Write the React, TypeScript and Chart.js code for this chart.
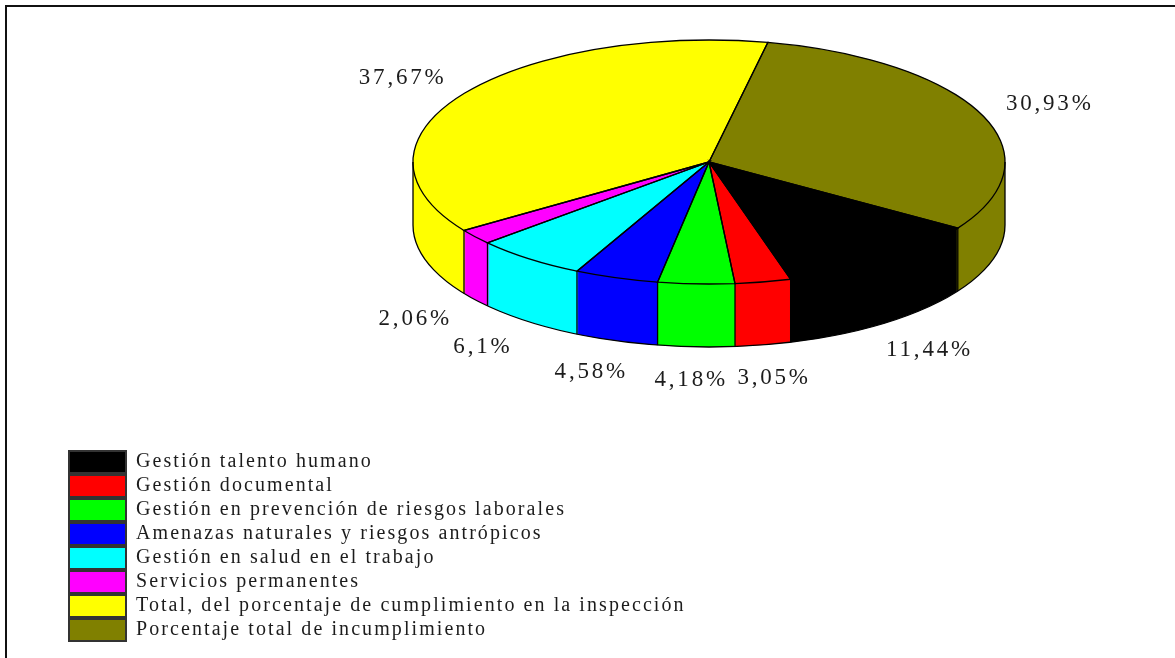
import React, { useEffect, useRef } from "react";
import { Chart, registerables } from "chart.js";

Chart.register(...registerables);

const categories = [
  "Gestión talento humano",
  "Gestión documental",
  "Gestión en prevención de riesgos laborales",
  "Amenazas naturales y riesgos antrópicos",
  "Gestión en salud en el trabajo",
  "Servicios permanentes",
  "Total, del porcentaje de cumplimiento en la inspección",
  "Porcentaje total de incumplimiento",
];
const percentages = [11.44, 3.05, 4.18, 4.58, 6.1, 2.06, 37.67, 30.93];
const sliceColors = ["#000000", "#ff0000", "#00ff00", "#0000ff", "#00ffff", "#ff00ff", "#ffff00", "#808000"];

// Label placement relative to each slice's rim mid-point
const labelNudges: [number, number][] = [
  [44, 90], [11, 96], [-5, 96], [-25, 94], [-46, 88], [-60, 82], [-60, -16], [68, -11],
];

const CX = 709;
const CY = 162;
const RX = 296;
const RY = 122;
const DEPTH = 63;
const SERIF = '"Liberation Serif", serif';
const INK = "#1c1c1c";
const LEGEND_SPACING = "2.08px";

function applyPieTransform(chart: any) {
  const arc = chart.getDatasetMeta(0).data[0] as any;
  const sx = RX / arc.outerRadius;
  const sy = RY / arc.outerRadius;
  chart.ctx.setTransform(sx, 0, 0, sy, CX - arc.x * sx, CY - arc.y * sy);
}

const pie3d = {
  id: "pie3d",
  beforeLayout(chart: any) {
    (chart.ctx as any).letterSpacing = LEGEND_SPACING;
  },
  beforeDraw(chart: any) {
    (chart.ctx as any).letterSpacing = LEGEND_SPACING;
  },
  beforeDatasetDraw(chart: any) {
    const ctx = chart.ctx;
    const els = chart.getDatasetMeta(0).data as any[];
    const scaleY = RY / els[0].outerRadius;
    ctx.save();
    applyPieTransform(chart);
    for (let d = DEPTH; d >= 1; d--) {
      ctx.save();
      ctx.translate(0, d / scaleY);
      els.forEach((el) => el.draw(ctx));
      ctx.restore();
    }
  },
  afterDatasetDraw(chart: any) {
    const ctx = chart.ctx;
    ctx.restore();
    const els = chart.getDatasetMeta(0).data as any[];
    ctx.save();
    ctx.strokeStyle = "#000000";
    ctx.lineWidth = 1.3;
    els.forEach((el) => {
      ctx.beginPath();
      ctx.moveTo(CX, CY);
      ctx.ellipse(CX, CY, RX, RY, 0, el.startAngle, el.endAngle);
      ctx.closePath();
      ctx.stroke();
      const s = Math.sin(el.startAngle);
      if (s > 0) {
        const x = CX + RX * Math.cos(el.startAngle);
        const y = CY + RY * s;
        ctx.beginPath();
        ctx.moveTo(x, y);
        ctx.lineTo(x, y + DEPTH);
        ctx.stroke();
      }
    });
    ctx.beginPath();
    ctx.ellipse(CX, CY + DEPTH, RX, RY, 0, 0, Math.PI);
    ctx.stroke();
    [-1, 1].forEach((side) => {
      ctx.beginPath();
      ctx.moveTo(CX + side * RX, CY);
      ctx.lineTo(CX + side * RX, CY + DEPTH);
      ctx.stroke();
    });
    ctx.restore();
  },
  afterDraw(chart: any) {
    const ctx = chart.ctx;
    const els = chart.getDatasetMeta(0).data as any[];
    ctx.save();
    ctx.font = `23px ${SERIF}`;
    ctx.fillStyle = INK;
    ctx.textAlign = "center";
    ctx.textBaseline = "middle";
    (ctx as any).letterSpacing = "2.8px";
    els.forEach((el, i) => {
      const mid = (el.startAngle + el.endAngle) / 2;
      const x = CX + RX * Math.cos(mid) + labelNudges[i][0];
      const y = CY + RY * Math.sin(mid) + labelNudges[i][1];
      ctx.fillText(`${String(percentages[i]).replace(".", ",")}%`, x, y);
    });
    ctx.restore();
  },
};

export default function App() {
  const ref = useRef<HTMLCanvasElement>(null);
  useEffect(() => {
    const chart = new Chart(ref.current as HTMLCanvasElement, {
      type: "pie",
      data: {
        labels: categories,
        datasets: [
          {
            data: percentages,
            backgroundColor: sliceColors,
            borderWidth: 0,
            clip: false,
          } as any,
        ],
      },
      options: {
        responsive: false,
        animation: false,
        rotation: 122.8,
        layout: { padding: { left: 67, right: 0, top: 8, bottom: 15 } },
        plugins: {
          tooltip: { enabled: false },
          legend: {
            position: "left",
            align: "end",
            maxWidth: 680,
            labels: {
              boxWidth: 57,
              boxHeight: 22,
              padding: 2,
              color: INK,
              font: { family: SERIF, size: 20 },
              generateLabels: (c: any) =>
                (Chart as any).overrides.pie.plugins.legend.labels
                  .generateLabels(c)
                  .map((item: any) => ({ ...item, lineWidth: 2, strokeStyle: "#333333" })),
            },
          },
        },
      } as any,
      plugins: [pie3d],
    });
    return () => chart.destroy();
  }, []);
  return (
    <div style={{ position: "fixed", left: 0, top: 0, width: 1175, height: 658, background: "#fff", overflow: "hidden" }}>
      <div
        style={{
          position: "absolute",
          left: 5,
          top: 5,
          right: 0,
          bottom: 0,
          borderTop: "2px solid #111",
          borderLeft: "2px solid #111",
        }}
      />
      <canvas ref={ref} width={1175} height={658} style={{ position: "absolute", left: 0, top: 0 }} />
    </div>
  );
}
